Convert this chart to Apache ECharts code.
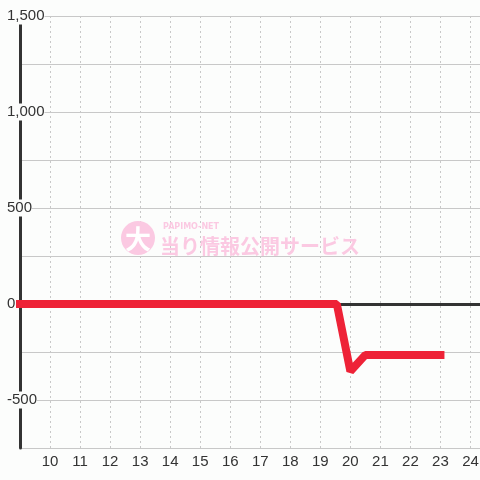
<!DOCTYPE html>
<html><head><meta charset="utf-8">
<script src="https://cdn.jsdelivr.net/npm/echarts@6/dist/echarts.min.js"></script>
<style>html,body{margin:0;padding:0;background:#fcfdfc}#c{width:480px;height:480px}</style>
</head><body><div id="c"></div>
<script>
const xValues = [9, 19.55, 20, 20.5, 23];
const yValues = [0, 0, -350, -265, -265];
const yMin = -750, yMax = 1500, yStep = 250, yLabelStep = 500;
const xMin = 9, xMax = 24.317;

const fmt = v => {
  if (v % yLabelStep !== 0) return '';
  const s = Math.abs(v).toString().replace(/\B(?=(\d{3})+(?!\d))/g, ',');
  return (v < 0 ? '-' : '') + s;
};

const chart = echarts.init(document.getElementById('c'));
chart.setOption({
  backgroundColor: '#fcfdfc',
  animation: false,
  grid: { left: 20, right: 0, top: 16, bottom: 32, outerBoundsMode: 'none', containLabel: false },
  xAxis: {
    type: 'value', min: xMin, max: xMax, interval: 1,
    axisLine: { show: false }, axisTick: { show: false },
    axisLabel: {
      color: '#333', fontSize: 15, margin: 6, fontFamily: 'Liberation Sans, Arial',
      formatter: v => (Number.isInteger(v) && v > xMin) ? String(v) : ''
    },
    splitLine: { show: true, lineStyle: { color: '#c8c8c8', type: [2, 3], width: 1 } }
  },
  yAxis: {
    type: 'value', min: yMin, max: yMax, interval: yStep,
    axisLine: { show: true, onZero: false, lineStyle: { color: '#333', width: 3 } },
    axisTick: { show: false },
    axisLabel: {
      color: '#333', fontSize: 15, margin: 13, align: 'left',
      fontFamily: 'Liberation Sans, Arial',
      backgroundColor: '#fcfdfc', padding: [1, 0],
      formatter: fmt
    },
    splitLine: { show: true, lineStyle: { color: '#c8c8c8', width: 1 } }
  },
  graphic: [
    { type: 'circle', shape: { cx: 138, cy: 238, r: 17 }, style: { fill: '#fbc9e2' }, z: 1 },
    { type: 'text', x: 138, y: 239, style: { text: '大', fill: '#fff', font: 'bold 26px "Noto Sans CJK JP"', align: 'center', verticalAlign: 'middle' }, z: 2 },
    { type: 'text', x: 163, y: 227, style: { text: 'PAPIMO-NET', fill: '#fbc9e2', font: 'bold 8px "DejaVu Sans"', verticalAlign: 'middle' }, z: 1 },
    { type: 'text', x: 160, y: 246, style: { text: '当り情報公開サービス', fill: '#fbc9e2', font: 'bold 20px "Noto Sans CJK JP"', verticalAlign: 'middle' }, z: 1 }
  ],
  series: [{
    type: 'line',
    data: xValues.map((x, i) => [x, yValues[i]]),
    symbol: 'none',
    lineStyle: { color: '#ee2237', width: 8, cap: 'square', join: 'bevel' },
    z: 5,
    markLine: {
      silent: true, symbol: 'none', label: { show: false },
      lineStyle: { color: '#333', width: 3, type: 'solid' },
      data: [{ yAxis: 0 }],
      z: 3
    }
  }]
});
</script></body></html>
